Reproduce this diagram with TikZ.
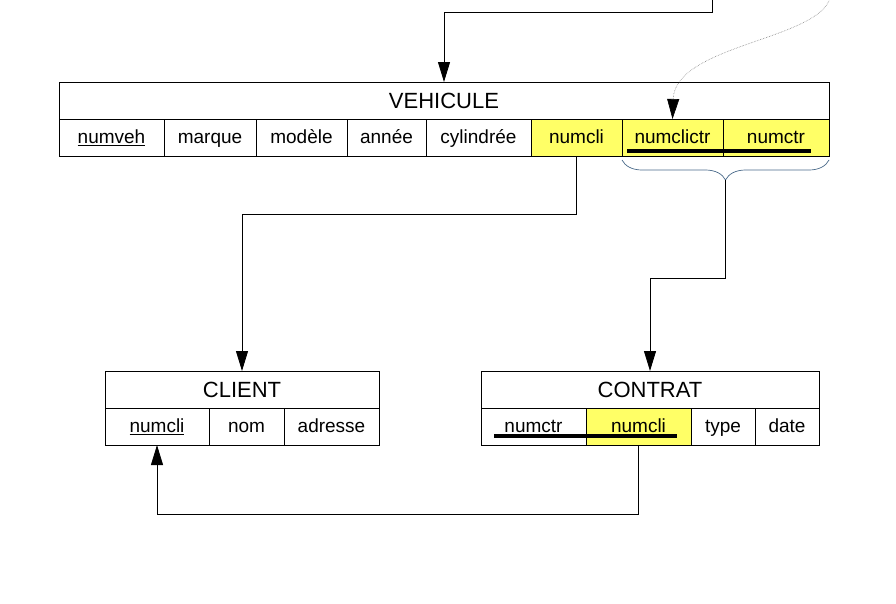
\documentclass[tikz,border=0pt]{standalone}
\usepackage{fontspec}
\setmainfont{Liberation Sans}
\usetikzlibrary{arrows.meta,positioning,calc,decorations.pathreplacing}
\definecolor{keyyellow}{HTML}{FFFF66}
\definecolor{braceblue}{HTML}{4A6A8A}

\begin{document}
\begin{tikzpicture}[x=1pt,y=-1pt,% one unit = one pixel of the sketch, y going down
		every node/.style={
			draw,line width=0.9pt,
			outer sep=0pt,inner sep=0pt, % cells share their borders
			minimum height=37pt,
			text height=15pt,text depth=3pt, % same baseline in every cell
			font=\fontsize{19}{22}\selectfont
		},
		title/.style={font=\fontsize{22}{26}\selectfont,text height=18pt,text depth=2.5pt},
		key/.style={fill=keyyellow},
		link/.style={draw,line width=0.9pt,-{Triangle[width=12pt,length=20pt]}},
		dotlink/.style={draw,gray,densely dotted,line width=0.6pt,-{Triangle[width=12pt,length=20pt,color=black]}},
		brace/.style={draw=braceblue,line width=0.7pt,decorate,decoration={brace,mirror,amplitude=20pt}}
	]
	\useasboundingbox (0,0) rectangle (896,603);
	% VEHICULE
	\node[title,minimum width=770pt](V0) at (444,100.5){VEHICULE};
	\node[minimum width=105pt,anchor=north west](V1) at (V0.south west){\underline{numveh}};
	\node[minimum width=92pt](V2)[right=0pt of V1]{marque};
	\node[minimum width=91pt](V3)[right=0pt of V2]{modèle};
	\node[minimum width=79pt](V4)[right=0pt of V3]{année};
	\node[minimum width=105pt](V5)[right=0pt of V4]{cylindrée};
	\node[key,minimum width=91pt](V6)[right=0pt of V5]{numcli};
	\node[key,minimum width=101pt](V7)[right=0pt of V6]{numclictr};
	\node[key,minimum width=106pt](V8)[right=0pt of V7]{numctr};
	% CLIENT
	\node[title,minimum width=274pt](C0) at (242,389.5){CLIENT};
	\node[minimum width=104pt,anchor=north west](C1) at (C0.south west){\underline{numcli}};
	\node[minimum width=75pt](C2)[right=0pt of C1]{nom};
	\node[minimum width=95pt](C3)[right=0pt of C2]{adresse};
	% CONTRAT
	\node[title,minimum width=338pt](T0) at (650,389.5){CONTRAT};
	\node[minimum width=105pt,anchor=north west](T1) at (T0.south west){numctr};
	\node[key,minimum width=105pt](T2)[right=0pt of T1]{numcli};
	\node[minimum width=64pt](T3)[right=0pt of T2]{type};
	\node[minimum width=64pt](T4)[right=0pt of T3]{date};
	% composite keys
	\draw[line width=4pt] ([xshift=5pt,yshift=5pt]V7.south west) -- ([xshift=-18pt,yshift=5pt]V8.south east);
	\draw[line width=4pt] ([xshift=13pt,yshift=9pt]T1.south west) -- ([xshift=-14pt,yshift=9pt]T2.south east);
	\draw[brace] ([yshift=-4pt]V7.south west) -- ([yshift=-4pt]V8.south east);
	\coordinate (B) at ($(V7.south west)!.5!(V8.south east)+(0,24)$);
	\coordinate (topin) at (712,-2);
	\coordinate (dotin) at (830,-2);
	% links
	\path[link] (topin) -- ++(0,14) -| (V0.north);
	\path[dotlink] (dotin) .. controls (818,40) and (675,45) .. (V7.north);
	\path[link] (V6.south) -- ++(0,58) -| (C0.north);
	\path[link] (B) -- ++(0,98) -| (T0.north);
	\path[link] (T2.south) -- ++(0,69) -| (C1.south);
\end{tikzpicture}
\end{document}
